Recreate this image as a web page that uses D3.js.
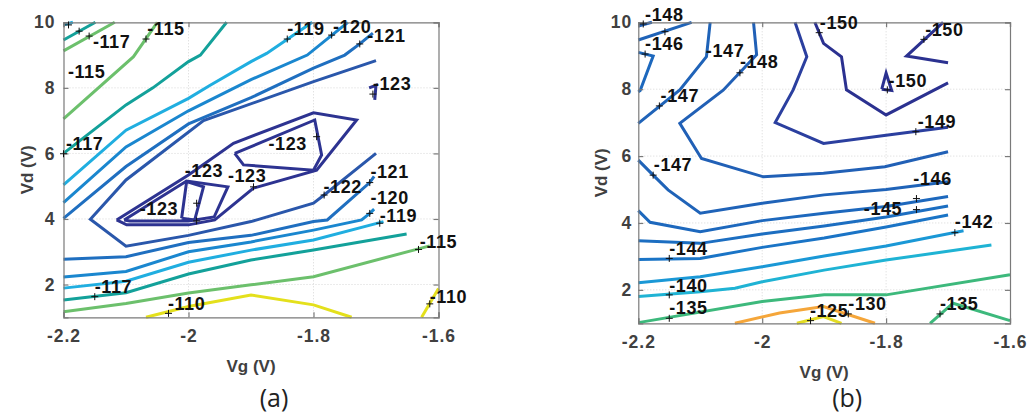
<!DOCTYPE html>
<html>
<head>
<meta charset="utf-8">
<script src="https://cdn.jsdelivr.net/npm/d3@7"></script>
<style>
  html, body { margin: 0; padding: 0; background: #fff; }
  svg { display: block; }
  .tick-label { font-family: "Liberation Sans", Arial, sans-serif; font-weight: bold; font-size: 17.5px; fill: #404040; letter-spacing: 1px; }
  .axis-title { font-family: "Liberation Sans", Arial, sans-serif; font-weight: bold; font-size: 17px; fill: #404040; }
  .clabel { font-family: "Liberation Sans", Arial, sans-serif; font-weight: bold; font-size: 18px; fill: #111; letter-spacing: 0.6px; }
  .panel-title { font-family: "Open Sans", "Liberation Sans", sans-serif; font-size: 25px; fill: #222; }
</style>
</head>
<body>
<svg id="chart" width="1027" height="416"></svg>
<script>
// ---------- Axis ticks ----------
const vgTicks = [-2.2, -2.0, -1.8, -1.6];
const vdTicks = [2, 4, 6, 8, 10];

// ---------- Contour level colours (parula-like) ----------
const levelColorsA = [
  [-123, "#2d3391"], [-122, "#2a57ab"], [-121, "#1f6fc0"], [-120, "#1a87cf"],
  [-119, "#20aee0"], [-117, "#13a19a"], [-115, "#6cc06c"], [-110, "#e4e01c"]
];
const levelColorsB = [
  [-150, "#2b3190"], [-149, "#2b3f9f"], [-148, "#2160b6"], [-147, "#1f63b8"],
  [-146, "#1d68bd"], [-145, "#1c6ec1"], [-144, "#1a74c6"], [-142, "#1a98d6"],
  [-140, "#1fb3d4"], [-135, "#3db97c"], [-130, "#f5a63a"], [-125, "#e3dc24"]
];

// ---------- Panel (a): contour lines [level, [[Vg, Vd], ...]] ----------
const contoursA = [
  [-119, [[-2.2, 9.92], [-2.185, 10]]],
  [-117, [[-2.2, 9.46], [-2.149, 10]]],
  [-115, [[-2.2, 9.13], [-2.118, 10]]],
  [-115, [[-2.2, 7.05], [-2.088, 8.95], [-2.05, 10]]],
  [-117, [[-2.2, 6.0], [-2.1, 7.48], [-2.057, 8.0], [-2.0, 8.8], [-1.981, 9.0], [-1.939, 10]]],
  [-119, [[-2.2, 5.04], [-2.1, 6.71], [-2.0, 7.68], [-1.966, 8.07], [-1.9, 8.8], [-1.875, 9.05], [-1.802, 10]]],
  [-120, [[-2.2, 4.5], [-2.1, 6.2], [-2.0, 7.3], [-1.9, 8.25], [-1.81, 9.0], [-1.771, 9.6], [-1.745, 10]]],
  [-121, [[-2.2, 4.02], [-2.1, 5.6], [-2.0, 6.9], [-1.9, 7.7], [-1.8, 8.6], [-1.75, 9.0], [-1.726, 9.34], [-1.705, 9.67]]],
  [-122, [[-1.7, 8.83], [-1.8, 8.19], [-1.976, 7.0], [-2.1, 5.19], [-2.157, 3.99],
          [-2.1, 3.17], [-2.0, 3.5], [-1.9, 3.92], [-1.8, 4.48], [-1.783, 4.73], [-1.7, 6.0]]],
  [-121, [[-2.2, 2.77], [-2.1, 2.85], [-2.0, 3.28], [-1.9, 3.5], [-1.8, 3.92], [-1.778, 3.97], [-1.71, 5.11], [-1.703, 5.3]]],
  [-120, [[-2.2, 2.23], [-2.1, 2.4], [-2.0, 3.0], [-1.9, 3.3], [-1.8, 3.66], [-1.723, 3.97], [-1.71, 4.17], [-1.703, 4.3]]],
  [-119, [[-2.2, 1.89], [-2.1, 2.1], [-2.0, 2.68], [-1.9, 3.05], [-1.8, 3.36], [-1.688, 3.92]]],
  [-117, [[-2.2, 1.53], [-2.1, 1.75], [-2.0, 2.32], [-1.9, 2.75], [-1.8, 3.05], [-1.651, 3.54]]],
  [-115, [[-2.2, 1.17], [-2.1, 1.42], [-2.0, 1.74], [-1.9, 1.99], [-1.8, 2.24], [-1.614, 3.18]]],
  [-110, [[-2.068, 1.0], [-2.0, 1.33], [-1.9, 1.68], [-1.8, 1.38], [-1.739, 1.0]]],
  [-110, [[-1.627, 1.0], [-1.6, 1.88]]],
  [-123, [[-1.711, 8.0], [-1.7, 8.08], [-1.702, 7.63]]],
  [-123, [[-2.115, 3.97], [-2.0, 5.34], [-1.928, 6.31], [-1.8, 7.24], [-1.731, 7.02], [-1.795, 5.49],
          [-1.896, 4.94], [-1.958, 3.97], [-2.0, 3.82], [-2.099, 3.82], [-2.115, 3.97]]],
  [-123, [[-2.103, 3.97], [-2.003, 5.16], [-1.937, 4.98], [-1.959, 4.06], [-2.0, 3.94], [-2.094, 3.94], [-2.103, 3.97]]],
  [-123, [[-2.011, 4.02], [-2.003, 5.14], [-1.976, 4.98], [-1.99, 3.97], [-2.011, 4.02]]],
  [-123, [[-1.926, 6.0], [-1.798, 7.02], [-1.787, 5.95], [-1.8, 5.49], [-1.912, 5.65], [-1.926, 6.0]]]
];

// Label markers (+) and texts for panel (a)
const marksA = [
  [-2.192, 9.92], [-2.175, 9.73], [-2.159, 9.58], [-2.068, 9.49], [-1.842, 9.49], [-1.771, 9.61],
  [-1.726, 9.34], [-1.705, 7.81], [-2.2, 5.99], [-1.795, 6.51], [-1.987, 4.48], [-1.987, 3.94],
  [-1.896, 4.98], [-1.783, 4.73], [-1.71, 5.11], [-1.71, 4.17], [-1.694, 3.87], [-1.632, 3.07],
  [-1.614, 1.41], [-2.15, 1.63], [-2.032, 1.12]
];
const labelsA = [
  ["-117", -2.153, 9.22], ["-115", -2.066, 9.61], ["-115", -2.193, 8.30], ["-119", -1.842, 9.61],
  ["-120", -1.769, 9.68], ["-121", -1.714, 9.40], ["-123", -1.705, 7.93], ["-117", -2.196, 6.10],
  ["-123", -1.872, 6.10], ["-123", -2.006, 5.28], ["-123", -1.937, 5.13], ["-123", -2.078, 4.12],
  ["-122", -1.784, 4.79], ["-121", -1.709, 5.25], ["-120", -1.709, 4.45], ["-119", -1.694, 3.90],
  ["-115", -1.630, 3.11], ["-110", -1.614, 1.45], ["-117", -2.15, 1.74], ["-110", -2.033, 1.22]
];

// ---------- Panel (b): contour lines ----------
const contoursB = [
  [-148, [[-2.2, 9.89], [-2.178, 10]]],
  [-147, [[-2.2, 9.47], [-2.114, 10]]],
  [-146, [[-2.2, 9.10], [-2.176, 8.99], [-2.197, 7.96], [-2.2, 7.92]]],
  [-147, [[-2.2, 6.98], [-2.133, 7.98], [-2.09, 8.97], [-2.084, 10]]],
  [-148, [[-2.014, 10], [-2.009, 9.03], [-2.063, 7.97], [-2.133, 6.98], [-2.098, 5.93], [-1.998, 5.38],
          [-1.901, 5.49], [-1.802, 5.68], [-1.7, 6.13]]],
  [-149, [[-1.947, 10], [-1.928, 8.97], [-1.95, 7.98], [-1.979, 7.0], [-1.901, 6.38], [-1.8, 6.62], [-1.7, 6.86]]],
  [-150, [[-1.915, 10], [-1.901, 9.37], [-1.872, 8.97], [-1.864, 7.98], [-1.8, 7.23], [-1.7, 8.19]]],
  [-150, [[-1.807, 8.0], [-1.8, 8.48], [-1.791, 7.96], [-1.807, 8.0]]],
  [-150, [[-1.7, 8.79], [-1.767, 8.99], [-1.708, 10]]],
  [-147, [[-2.2, 5.88], [-2.176, 5.43], [-2.152, 4.99], [-2.1, 4.29], [-2.0, 4.59], [-1.9, 4.84], [-1.8, 5.0], [-1.7, 5.23]]],
  [-146, [[-2.2, 4.37], [-2.181, 4.02], [-2.1, 3.74], [-2.0, 4.07], [-1.9, 4.29], [-1.8, 4.49], [-1.7, 4.79]]],
  [-145, [[-2.2, 3.47], [-2.1, 3.39], [-2.0, 3.67], [-1.9, 3.91], [-1.8, 4.18], [-1.7, 4.51]]],
  [-144, [[-2.2, 2.91], [-2.1, 2.94], [-2.0, 3.27], [-1.9, 3.55], [-1.8, 3.88], [-1.7, 4.24]]],
  [-142, [[-2.2, 2.21], [-2.1, 2.39], [-2.0, 2.69], [-1.9, 3.01], [-1.8, 3.31], [-1.675, 3.77]]],
  [-140, [[-2.2, 1.80], [-2.1, 1.94], [-2.044, 2.05], [-2.0, 2.24], [-1.9, 2.59], [-1.8, 2.89], [-1.630, 3.34]]],
  [-135, [[-2.2, 1.02], [-2.0, 1.65], [-1.9, 1.85], [-1.8, 1.85], [-1.6, 2.45]]],
  [-135, [[-1.729, 1.0], [-1.692, 1.60], [-1.6, 1.08]]],
  [-130, [[-2.044, 1.0], [-1.972, 1.31], [-1.901, 1.50], [-1.818, 1.0]]],
  [-125, [[-1.944, 1.0], [-1.901, 1.20], [-1.872, 1.0]]]
];
const marksB = [
  [-2.192, 9.95], [-2.157, 9.72], [-2.189, 9.05], [-2.166, 7.5], [-2.036, 8.49], [-1.908, 9.69],
  [-1.798, 7.98], [-1.739, 9.49], [-1.752, 6.73], [-2.176, 5.43], [-1.751, 4.73], [-1.751, 4.40],
  [-2.15, 2.94], [-1.689, 3.71], [-2.15, 1.85], [-2.15, 1.15], [-1.922, 1.08], [-1.861, 1.28], [-1.713, 1.28]
];
const labelsB = [
  ["-148", -2.189, 10.04], ["-146", -2.189, 9.17], ["-147", -2.091, 8.96], ["-148", -2.036, 8.64],
  ["-147", -2.164, 7.62], ["-150", -1.907, 9.80], ["-150", -1.737, 9.59], ["-150", -1.796, 8.07],
  ["-149", -1.749, 6.84], ["-147", -2.175, 5.55], ["-146", -1.756, 5.14], ["-145", -1.836, 4.23],
  ["-142", -1.689, 3.85], ["-144", -2.15, 3.04], ["-140", -2.15, 1.94], ["-135", -2.15, 1.28],
  ["-125", -1.923, 1.19], ["-130", -1.861, 1.40], ["-135", -1.713, 1.40]
];

// ---------- Drawing ----------
const svg = d3.select("#chart");

function drawPanel(cfg) {
  const x = d3.scaleLinear().domain([-2.2, -1.6]).range([cfg.left, cfg.right]);
  const y = d3.scaleLinear().domain([1, 10]).range([cfg.bottom, cfg.top]);
  const colorOf = new Map(cfg.colors);
  const g = svg.append("g");

  // dotted grid
  g.append("g").selectAll("line").data(vgTicks.slice(1, -1)).join("line")
    .attr("x1", d => x(d)).attr("x2", d => x(d)).attr("y1", cfg.top).attr("y2", cfg.bottom)
    .attr("stroke", "#d6d6d6").attr("stroke-width", 1).attr("stroke-dasharray", "1,2");
  g.append("g").selectAll("line").data(vdTicks.slice(0, -1)).join("line")
    .attr("y1", d => y(d)).attr("y2", d => y(d)).attr("x1", cfg.left).attr("x2", cfg.right)
    .attr("stroke", "#d6d6d6").attr("stroke-width", 1).attr("stroke-dasharray", "1,2");

  // contour lines
  const line = d3.line().x(d => x(d[0])).y(d => y(d[1]));
  g.append("g").selectAll("path").data(cfg.contours).join("path")
    .attr("d", d => line(d[1]))
    .attr("fill", "none")
    .attr("stroke", d => colorOf.get(d[0]))
    .attr("stroke-width", 3)
    .attr("stroke-linejoin", "miter");

  // frame + inward ticks on all four sides
  const fmt = d => d3.format("~g")(d).replace("\u2212", "-");
  const axes = [
    g.append("g").attr("transform", `translate(0,${cfg.bottom})`)
      .call(d3.axisBottom(x).tickValues(vgTicks).tickSize(-5).tickPadding(12).tickFormat(fmt)),
    g.append("g").attr("transform", `translate(0,${cfg.top})`)
      .call(d3.axisTop(x).tickValues(vgTicks).tickSize(-5).tickFormat("")),
    g.append("g").attr("transform", `translate(${cfg.left},0)`)
      .call(d3.axisLeft(y).tickValues(vdTicks).tickSize(-5).tickPadding(cfg.yPad).tickFormat(fmt)),
    g.append("g").attr("transform", `translate(${cfg.right},0)`)
      .call(d3.axisRight(y).tickValues(vdTicks).tickSize(-5).tickFormat(""))
  ];
  axes.forEach(a => {
    a.select(".domain").attr("stroke", "#7a7a7a").attr("stroke-width", 1.2);
    a.selectAll(".tick line").attr("stroke", "#7a7a7a").attr("stroke-width", 1.2);
    a.selectAll(".tick text").attr("class", "tick-label").attr("font-size", null).attr("font-family", null);
  });

  // label markers (+)
  const pm = g.append("g").attr("stroke", "#111").attr("stroke-width", 1);
  cfg.marks.forEach(m => {
    const cx = x(m[0]), cy = y(m[1]);
    pm.append("line").attr("x1", cx - 3.5).attr("x2", cx + 3.5).attr("y1", cy).attr("y2", cy);
    pm.append("line").attr("x1", cx).attr("x2", cx).attr("y1", cy - 3.5).attr("y2", cy + 3.5);
  });
  g.append("g").selectAll("text").data(cfg.labels).join("text")
    .attr("class", "clabel")
    .attr("x", d => x(d[1])).attr("y", d => y(d[2]))
    .text(d => d[0]);

  // axis titles and panel title
  const cx = (cfg.left + cfg.right) / 2;
  g.append("text").attr("class", "axis-title").attr("text-anchor", "middle")
    .attr("x", cx).attr("y", cfg.bottom + 55).text("Vg (V)");
  g.append("text").attr("class", "axis-title").attr("text-anchor", "middle")
    .attr("transform", `translate(${cfg.left - 31},${(cfg.top + cfg.bottom) / 2}) rotate(-90)`)
    .text("Vd (V)");
  g.append("text").attr("class", "panel-title").attr("text-anchor", "middle")
    .attr("x", cx + 23).attr("y", 407).text(cfg.title);
}

drawPanel({ left: 63.5, right: 438.5, top: 22.3, bottom: 317.3, yPad: 8, colors: levelColorsA,
  contours: contoursA, marks: marksA, labels: labelsA, title: "(a)" });
drawPanel({ left: 638.3, right: 1010, top: 22.3, bottom: 323.3, yPad: 6, colors: levelColorsB,
  contours: contoursB, marks: marksB, labels: labelsB, title: "(b)" });
</script>
</body>
</html>
